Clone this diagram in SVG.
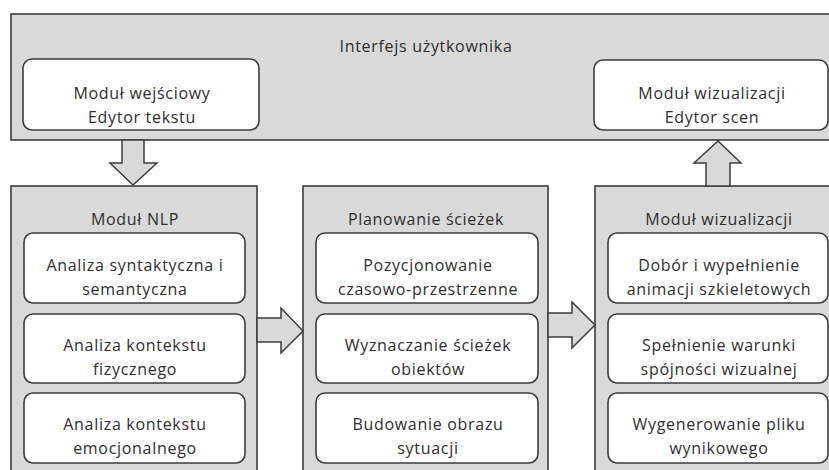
<svg xmlns="http://www.w3.org/2000/svg" width="829" height="470" viewBox="0 0 829 470">
<style>
.panel{fill:#d9d9d9;stroke:#3c3c3c;stroke-width:1.6}
.box{fill:#ffffff;stroke:#3c3c3c;stroke-width:1.6}
.arrow{fill:#d9d9d9;stroke:#3c3c3c;stroke-width:1.5;stroke-linejoin:miter}
text{font-family:"Open Sans","Liberation Sans",sans-serif;font-size:16px;letter-spacing:0.7px;fill:#2e2e2e;text-anchor:middle}
</style>
<rect width="829" height="470" fill="#ffffff"/>
<g id="interfejs">
<rect class="panel" x="11" y="14" width="830" height="126"/>
<text x="426" y="52">Interfejs użytkownika</text>
</g>
<g id="modul-wejsciowy">
<rect class="box" x="23" y="59" width="236" height="71" rx="9"/>
<text x="142" y="99">Moduł wejściowy</text>
<text x="142" y="123">Edytor tekstu</text>
</g>
<g id="modul-wizualizacji-edytor">
<rect class="box" x="594" y="60" width="234" height="70" rx="9"/>
<text x="712" y="99">Moduł wizualizacji</text>
<text x="712" y="123">Edytor scen</text>
</g>
<g id="modul-nlp">
<rect class="panel" x="11" y="186" width="246" height="300"/>
<text x="135" y="225">Moduł NLP</text>
</g>
<g id="analiza-syntaktyczna">
<rect class="box" x="24" y="233" width="221" height="70" rx="9"/>
<text x="135" y="271">Analiza syntaktyczna i</text>
<text x="135" y="295">semantyczna</text>
</g>
<g id="analiza-fizycznego">
<rect class="box" x="24" y="314" width="221" height="69" rx="9"/>
<text x="135" y="351">Analiza kontekstu</text>
<text x="135" y="375">fizycznego</text>
</g>
<g id="analiza-emocjonalnego">
<rect class="box" x="24" y="393" width="221" height="70" rx="9"/>
<text x="135" y="430">Analiza kontekstu</text>
<text x="135" y="454">emocjonalnego</text>
</g>
<g id="planowanie">
<rect class="panel" x="303" y="186" width="245" height="300"/>
<text x="426" y="225">Planowanie ścieżek</text>
</g>
<g id="pozycjonowanie">
<rect class="box" x="316" y="233" width="222" height="70" rx="9"/>
<text x="428" y="271">Pozycjonowanie</text>
<text x="428" y="295">czasowo-przestrzenne</text>
</g>
<g id="wyznaczanie">
<rect class="box" x="316" y="314" width="222" height="69" rx="9"/>
<text x="428" y="351">Wyznaczanie ścieżek</text>
<text x="428" y="375">obiektów</text>
</g>
<g id="budowanie">
<rect class="box" x="316" y="393" width="222" height="70" rx="9"/>
<text x="428" y="430">Budowanie obrazu</text>
<text x="428" y="454">sytuacji</text>
</g>
<g id="modul-wizualizacji">
<rect class="panel" x="595" y="186" width="250" height="300"/>
<text x="719" y="225">Moduł wizualizacji</text>
</g>
<g id="dobor">
<rect class="box" x="608" y="233" width="220" height="70" rx="9"/>
<text x="719" y="271">Dobór i wypełnienie</text>
<text x="719" y="295">animacji szkieletowych</text>
</g>
<g id="spelnienie">
<rect class="box" x="608" y="314" width="220" height="69" rx="9"/>
<text x="719" y="351">Spełnienie warunki</text>
<text x="719" y="375">spójności wizualnej</text>
</g>
<g id="wygenerowanie">
<rect class="box" x="608" y="393" width="220" height="70" rx="9"/>
<text x="719" y="430">Wygenerowanie pliku</text>
<text x="719" y="454">wynikowego</text>
</g>
<g id="connectors">
<polygon class="arrow" points="122,140 144,140 144,163 157,163 133,185 110,163 122,163"/>
<polygon class="arrow" points="706,186 730,186 730,163 741,163 718,141 694,163 706,163"/>
<polygon class="arrow" points="257,318 281,318 281,308 303,331 281,353 281,342 257,342"/>
<polygon class="arrow" points="548,313 572,313 572,302 595,325 572,348 572,337 548,337"/>
</g>
</svg>
